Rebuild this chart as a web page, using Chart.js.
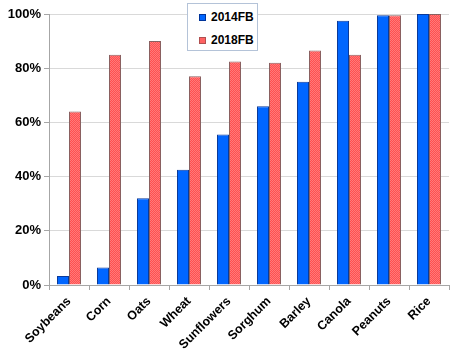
<!DOCTYPE html>
<html><head><meta charset="utf-8">
<script src="https://cdn.jsdelivr.net/npm/chart.js@4/dist/chart.umd.min.js"></script>
<style>
html,body{margin:0;padding:0;background:#fff;}
#wrap{position:relative;width:468px;height:351px;}
#legend{position:absolute;left:187px;top:3px;width:69px;height:46px;border:1px solid #b4c3d8;background:#fff;font:bold 12px "Liberation Sans",Arial,sans-serif;color:#000;}
.li{position:absolute;left:11px;display:flex;align-items:center;}
.sw{width:7px;height:7px;margin-right:5px;box-sizing:border-box;}
</style></head>
<body><div id="wrap"><canvas id="c" width="468" height="351"></canvas>
<div id="legend"><div class="li" style="top:6px"><span class="sw" style="background:#0066ff;border:1px solid #003399"></span>2014FB</div>
<div class="li" style="top:29px"><span class="sw" style="background:#ff6262;border:1px solid #b05050"></span>2018FB</div></div></div>
<script>
const categories=["Soybeans","Corn","Oats","Wheat","Sunflowers","Sorghum","Barley","Canola","Peanuts","Rice"];
const series2014=[3.3,6.5,32,42.5,55.5,66,75,97.5,99.5,100];
const series2018=[64,85,90,77,82.5,82,86.5,85,99.5,100];
const yTicks=[0,20,40,60,80,100];

const pc=document.createElement('canvas');pc.width=2;pc.height=2;
const px=pc.getContext('2d');
px.fillStyle='#ff5050';px.fillRect(0,0,2,2);
px.fillStyle='#ff7a7a';px.fillRect(0,0,1,1);px.fillRect(1,1,1,1);
const redPattern=px.createPattern(pc,'repeat');
const F='"Liberation Sans", Arial, sans-serif';
new Chart(document.getElementById('c'),{
type:'bar',
data:{labels:categories,datasets:[
{label:'2014FB',data:series2014,backgroundColor:'#0066ff',borderColor:'#0a3a9a',borderWidth:1,categoryPercentage:0.6,barPercentage:1},
{label:'2018FB',data:series2018,backgroundColor:redPattern,borderColor:'#8a6060',borderWidth:1,categoryPercentage:0.6,barPercentage:1}
]},
options:{responsive:false,animation:false,
layout:{padding:{top:14,right:19,left:0,bottom:0}},
plugins:{legend:{display:false},tooltip:{enabled:false}},
scales:{
x:{grid:{display:true,drawOnChartArea:false,offset:true,tickLength:5,color:'#a6a6a6'},border:{color:'#a6a6a6'},
ticks:{minRotation:45,maxRotation:45,color:'#000',font:{family:F,size:12.5,weight:'bold'},padding:4},
afterFit(a){a.height=66;}},
y:{min:0,max:100,afterBuildTicks(a){a.ticks=yTicks.map(v=>({value:v}));},
grid:{color:'#d9d9d9',tickLength:5,tickColor:'#a6a6a6'},border:{color:'#a6a6a6'},
ticks:{callback:v=>v+'%',color:'#000',font:{family:F,size:13,weight:'bold'},padding:3},
afterFit(a){a.width=49;}}
}}
});
</script></body></html>
